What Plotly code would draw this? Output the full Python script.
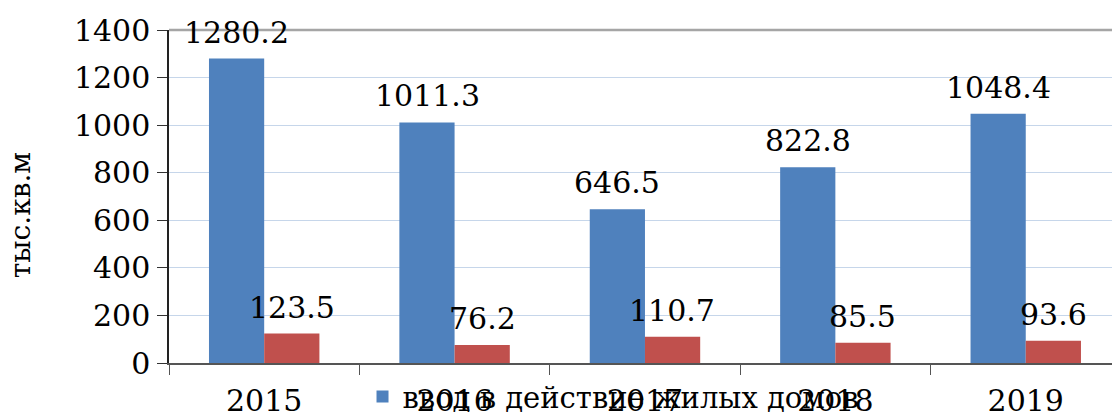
import plotly.graph_objects as go

years = ["2015", "2016", "2017", "2018", "2019"]
series_blue_name = "ввод в действие жилых домов"
series_blue = [1280.2, 1011.3, 646.5, 822.8, 1048.4]
series_red_name = "ввод в действие индивидуальных жилых домов"
series_red = [123.5, 76.2, 110.7, 85.5, 93.6]
y_ticks = [0, 200, 400, 600, 800, 1000, 1200, 1400]
y_title = "тыс.кв.м"

BLUE = "#4F81BD"
RED = "#C0504D"
FONT = "DejaVu Serif"
FS = 30

fig = go.Figure()
fig.add_trace(go.Bar(x=years, y=series_blue, name=series_blue_name,
                     marker=dict(color=BLUE, line=dict(width=0))))
fig.add_trace(go.Bar(x=years, y=series_red, name=series_red_name, showlegend=False,
                     marker=dict(color=RED, line=dict(width=0))))

for i in range(len(years)):
    fig.add_annotation(x=i, y=series_blue[i], xref="x", yref="y",
                       text=f"{series_blue[i]:.1f}", showarrow=False,
                       xshift=-27.5, yshift=7, yanchor="bottom",
                       font=dict(family=FONT, size=FS, color="#000"))
    fig.add_annotation(x=i, y=series_red[i], xref="x", yref="y",
                       text=f"{series_red[i]:.1f}", showarrow=False,
                       xshift=27.5, yshift=7, yanchor="bottom",
                       font=dict(family=FONT, size=FS, color="#000"))

# axis title placed like the reference (slightly below the plot centre)
fig.add_annotation(x=-0.158, y=0.444, xref="paper", yref="paper",
                   text=y_title, textangle=-90, showarrow=False,
                   xanchor="center", yanchor="middle",
                   font=dict(family=FONT, size=28, color="#000"))

fig.add_shape(type="line", xref="paper", yref="paper", x0=0, x1=1, y0=1, y1=1,
              line=dict(color="#A5A5A5", width=2.5), layer="above")

fig.update_layout(
    width=1112, height=412,
    margin=dict(l=169, r=0, t=30, b=49, pad=0, autoexpand=False),
    paper_bgcolor="white", plot_bgcolor="white",
    barmode="group", bargap=0.42, bargroupgap=0,
    font=dict(family=FONT, size=FS, color="#000"),
    showlegend=True,
    legend=dict(orientation="h", xref="container", yref="container",
                x=0.326, y=0.037, xanchor="left", yanchor="middle",
                font=dict(family=FONT, size=29, color="#000"),
                bgcolor="rgba(0,0,0,0)"),
    xaxis=dict(type="category", range=[-0.5, 4.453], tickson="boundaries",
               ticks="outside", ticklen=10, tickcolor="#555", tickwidth=1,
               ticklabelstandoff=10,
               showline=True, linecolor="#555", linewidth=1.5,
               showgrid=False, tickfont=dict(family=FONT, size=FS)),
    yaxis=dict(range=[0, 1400], tickvals=y_ticks, ticks="outside", ticklen=10,
               tickcolor="#333", showline=True, linecolor="#222", linewidth=1.5,
               showgrid=True, gridcolor="#C6D6EA", gridwidth=1, zeroline=False,
               ticklabelstandoff=1,
               tickfont=dict(family=FONT, size=FS)),
)

fig.write_html("out.html")
